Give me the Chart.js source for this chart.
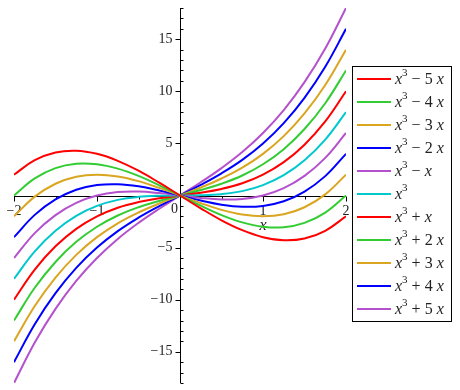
<!DOCTYPE html>
<html>
<head>
<meta charset="utf-8">
<script src="https://cdn.jsdelivr.net/npm/chart.js@4"></script>
<style>
  html, body { margin: 0; padding: 0; background: #fff; }
  #wrap { position: relative; width: 460px; height: 390px; }
  #plot { position: absolute; left: 0; top: 0; }
  #legend {
    position: absolute; left: 352px; top: 66px; width: 98px; height: 254px;
    border: 1px solid #000; box-sizing: content-box;
    font-family: "Times New Roman", "Liberation Serif", Times, serif; font-size: 16px; color: #222;
  }
  .item { position: absolute; left: 0; height: 23px; width: 98px; }
  .sw { position: absolute; left: 4px; top: 11px; width: 34px; height: 2px; }
  .lab { position: absolute; left: 42px; top: 2px; white-space: nowrap; line-height: 20px; }
  .lab i { font-style: italic; }
  .lab sup { font-size: 11px; vertical-align: 0; position: relative; top: -8px; }
</style>
</head>
<body>
<div id="wrap">
  <canvas id="plot" width="460" height="390"></canvas>
  <div id="legend"></div>
</div>
<script>
/* sample points along x */
const X_VALUES = [-2, -1.75, -1.5, -1.25, -1, -0.75, -0.5, -0.25, 0, 0.25, 0.5, 0.75, 1, 1.25, 1.5, 1.75, 2];

/* y values */
const Y_M5 = [2, 3.39, 4.13, 4.30, 4, 3.33, 2.38, 1.23, 0, -1.23, -2.38, -3.33, -4, -4.30, -4.13, -3.39, -2];
const Y_M4 = [0, 1.64, 2.63, 3.05, 3, 2.58, 1.88, 0.98, 0, -0.98, -1.88, -2.58, -3, -3.05, -2.63, -1.64, 0];
const Y_M3 = [-2, -0.11, 1.13, 1.80, 2, 1.83, 1.38, 0.73, 0, -0.73, -1.38, -1.83, -2, -1.80, -1.13, 0.11, 2];
const Y_M2 = [-4, -1.86, -0.38, 0.55, 1, 1.08, 0.88, 0.48, 0, -0.48, -0.88, -1.08, -1, -0.55, 0.38, 1.86, 4];
const Y_M1 = [-6, -3.61, -1.88, -0.70, 0, 0.33, 0.38, 0.23, 0, -0.23, -0.38, -0.33, 0, 0.70, 1.88, 3.61, 6];
const Y_0  = [-8, -5.36, -3.38, -1.95, -1, -0.42, -0.13, -0.02, 0, 0.02, 0.13, 0.42, 1, 1.95, 3.38, 5.36, 8];
const Y_P1 = [-10, -7.11, -4.88, -3.20, -2, -1.17, -0.63, -0.27, 0, 0.27, 0.63, 1.17, 2, 3.20, 4.88, 7.11, 10];
const Y_P2 = [-12, -8.86, -6.38, -4.45, -3, -1.92, -1.13, -0.52, 0, 0.52, 1.13, 1.92, 3, 4.45, 6.38, 8.86, 12];
const Y_P3 = [-14, -10.61, -7.88, -5.70, -4, -2.67, -1.63, -0.77, 0, 0.77, 1.63, 2.67, 4, 5.70, 7.88, 10.61, 14];
const Y_P4 = [-16, -12.36, -9.38, -6.95, -5, -3.42, -2.13, -1.02, 0, 1.02, 2.13, 3.42, 5, 6.95, 9.38, 12.36, 16];
const Y_P5 = [-18, -14.11, -10.88, -8.20, -6, -4.17, -2.63, -1.27, 0, 1.27, 2.63, 4.17, 6, 8.20, 10.88, 14.11, 18];

const SERIES = [Y_M5, Y_M4, Y_M3, Y_M2, Y_M1, Y_0, Y_P1, Y_P2, Y_P3, Y_P4, Y_P5];
const LEGEND_HTML = [
  '<i>x</i><sup>3</sup> &minus; 5 <i>x</i>',
  '<i>x</i><sup>3</sup> &minus; 4 <i>x</i>',
  '<i>x</i><sup>3</sup> &minus; 3 <i>x</i>',
  '<i>x</i><sup>3</sup> &minus; 2 <i>x</i>',
  '<i>x</i><sup>3</sup> &minus; <i>x</i>',
  '<i>x</i><sup>3</sup>',
  '<i>x</i><sup>3</sup> + <i>x</i>',
  '<i>x</i><sup>3</sup> + 2 <i>x</i>',
  '<i>x</i><sup>3</sup> + 3 <i>x</i>',
  '<i>x</i><sup>3</sup> + 4 <i>x</i>',
  '<i>x</i><sup>3</sup> + 5 <i>x</i>',
];

const X_TICK_LABELS = [-2, -1, 1, 2];
const Y_TICK_LABELS = [15, 10, 5, -5, -10, -15];

const COLORS = ['#ff0000', '#33cc33', '#daa520', '#0000ff', '#b452cd', '#00c8cc',
                '#ff0000', '#33cc33', '#daa520', '#0000ff', '#b452cd'];

const SERIF = '"Times New Roman", "Liberation Serif", Times, serif';
const FONT = '14px ' + SERIF;

function fmtNum(v) { return v < 0 ? '\u2212' + Math.abs(v) : String(v); }

/* axes through the origin, drawn with the chart's own scales */
const centerAxes = {
  id: 'centerAxes',
  beforeDatasetsDraw(chart) {
    const { ctx, chartArea: a, scales: { x, y } } = chart;
    const x0 = Math.round(x.getPixelForValue(0)) + 0.5;
    const y0 = Math.round(y.getPixelForValue(0)) + 0.5;
    ctx.save();
    ctx.strokeStyle = '#000';
    ctx.lineWidth = 1;
    ctx.beginPath();
    ctx.moveTo(a.left, y0); ctx.lineTo(a.right, y0);
    ctx.moveTo(x0, a.top); ctx.lineTo(x0, a.bottom);
    /* x ticks every 0.5 */
    for (let v = x.min; v <= x.max + 1e-9; v += 0.5) {
      if (Math.abs(v) < 1e-9) continue;
      const px = Math.round(x.getPixelForValue(v)) + 0.5;
      const len = Number.isInteger(v) ? 5 : 3;
      ctx.moveTo(px, y0); ctx.lineTo(px, y0 + len);
    }
    /* y ticks every 1, majors every 5 */
    for (let v = y.min; v <= y.max; v++) {
      if (v === 0) continue;
      const py = Math.round(y.getPixelForValue(v)) + 0.5;
      if (v % 5 === 0) { ctx.moveTo(x0 - 5, py); ctx.lineTo(x0, py); }
      else { ctx.moveTo(x0, py); ctx.lineTo(x0 + 3, py); }
    }
    ctx.stroke();

    ctx.fillStyle = '#222';
    ctx.font = FONT;
    ctx.textBaseline = 'middle';
    ctx.textAlign = 'center';
    X_TICK_LABELS.forEach(v => ctx.fillText(fmtNum(v), x.getPixelForValue(v), y0 + 15));
    ctx.fillText('0', x0 - 6, y0 + 13);
    ctx.textAlign = 'right';
    Y_TICK_LABELS.forEach(v => ctx.fillText(fmtNum(v), x0 - 8, y.getPixelForValue(v)));
    ctx.textAlign = 'center';
    ctx.font = 'italic 16px ' + SERIF;
    ctx.fillText('x', x.getPixelForValue(1), y0 + 29);
    ctx.restore();
  },
};

const datasets = SERIES.map((ys, i) => ({
  label: 'series ' + i,
  data: X_VALUES.map((xv, j) => ({ x: xv, y: ys[j] })),
  borderColor: COLORS[i],
  backgroundColor: COLORS[i],
  borderWidth: 2,
  pointRadius: 0,
  showLine: true,
  tension: 0.4,
}));

new Chart(document.getElementById('plot'), {
  type: 'scatter',
  data: { datasets },
  options: {
    responsive: false,
    animation: false,
    layout: { padding: { left: 14, right: 114, top: 8, bottom: 7 } },
    plugins: { legend: { display: false }, tooltip: { enabled: false } },
    scales: {
      x: { type: 'linear', min: -2, max: 2, display: false },
      y: { type: 'linear', min: -18, max: 18, display: false },
    },
  },
  plugins: [centerAxes],
});

/* custom boxed legend */
document.getElementById('legend').innerHTML = LEGEND_HTML.map((h, i) =>
  `<div class="item" style="top:${i * 23}px">
     <span class="sw" style="background:${COLORS[i]}"></span>
     <span class="lab">${h}</span>
   </div>`
).join('');
</script>
</body>
</html>
